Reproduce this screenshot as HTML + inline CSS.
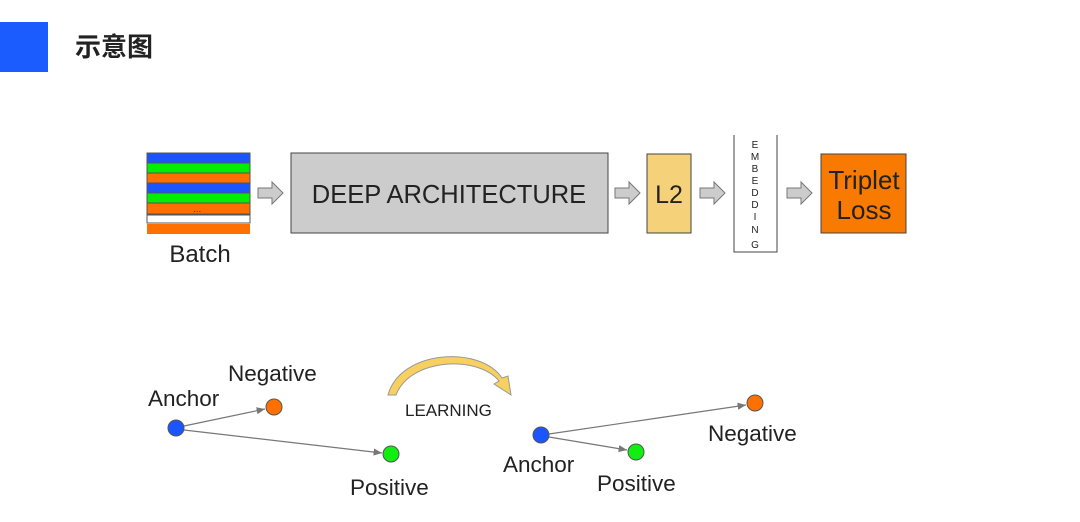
<!DOCTYPE html>
<html><head><meta charset="utf-8"><style>
body{margin:0;background:#fff;width:1080px;height:517px;overflow:hidden}
svg text{font-family:"Liberation Sans",Arial,sans-serif}
</style></head><body>
<svg width="1080" height="517" viewBox="0 0 1080 517" xmlns="http://www.w3.org/2000/svg">
<defs>
<g id="arr"><path d="M0,-5 H14 V-11 L25,0 L14,11 V5 H0 Z" fill="#ccc" stroke="#777" stroke-width="1"/></g>
<marker id="m" markerWidth="8" markerHeight="8" refX="7" refY="4" orient="auto"><path d="M0,1 L7,4 L0,7 Z" fill="#777"/></marker>
</defs>
<rect x="0" y="22" width="48" height="50" fill="#1a5cff"/>
<text x="75" y="56" font-size="26" font-weight="bold" fill="#222" style="font-family:'Liberation Sans','Noto Sans CJK SC',sans-serif">示意图</text>

<g stroke="#555" stroke-width="1">
<rect x="147" y="153" width="103" height="10" fill="#1a55ff"/>
<rect x="147" y="163" width="103" height="10" fill="#00ee00"/>
<rect x="147" y="173" width="103" height="10" fill="#ff7000"/>
<rect x="147" y="183" width="103" height="10" fill="#1a55ff"/>
<rect x="147" y="193" width="103" height="10" fill="#00ee00"/>
<rect x="147" y="203" width="103" height="11" fill="#ff7000"/>
<rect x="147" y="215" width="103" height="8" fill="#fff"/>
<rect x="147" y="224" width="103" height="10" fill="#ff7000" stroke="none"/>
</g>
<text x="193" y="212" font-size="10" fill="#333">...</text>
<text x="200" y="262" font-size="24" fill="#222" text-anchor="middle">Batch</text>

<use href="#arr" x="258" y="193"/>
<rect x="291" y="153" width="317" height="80" fill="#ccc" stroke="#444"/>
<text x="449" y="203" font-size="25.5" fill="#222" text-anchor="middle">DEEP ARCHITECTURE</text>
<use href="#arr" x="615" y="193"/>
<rect x="647" y="154" width="44" height="79" fill="#f5d27a" stroke="#444"/>
<text x="669" y="203" font-size="25" fill="#222" text-anchor="middle">L2</text>
<use href="#arr" x="700" y="193"/>
<path d="M734,135 V252 H777 V135" fill="#fff" stroke="#444"/>
<g font-size="10" fill="#222" text-anchor="middle">
<text x="755" y="148">E</text><text x="755" y="160">M</text><text x="755" y="172">B</text><text x="755" y="184">E</text><text x="755" y="196">D</text><text x="755" y="208">D</text><text x="755" y="220">I</text><text x="755" y="233">N</text><text x="755" y="248">G</text>
</g>
<use href="#arr" x="787" y="193"/>
<rect x="821" y="154" width="85" height="79" fill="#f97a00" stroke="#444"/>
<text x="864" y="189" font-size="26" fill="#222" text-anchor="middle">Triplet</text>
<text x="864" y="219" font-size="26" fill="#222" text-anchor="middle">Loss</text>

<g stroke="#777" stroke-width="1.2" marker-end="url(#m)">
<line x1="184" y1="426" x2="265" y2="409"/>
<line x1="184" y1="430" x2="382" y2="453"/>
<line x1="549" y1="434" x2="746" y2="405"/>
<line x1="549" y1="437" x2="627" y2="450"/>
</g>
<circle cx="176" cy="428" r="8" fill="#1a55ff" stroke="#555"/>
<circle cx="274" cy="407" r="8" fill="#ff7000" stroke="#555"/>
<circle cx="391" cy="454" r="8" fill="#11ee11" stroke="#555"/>
<circle cx="541" cy="435" r="8" fill="#1a55ff" stroke="#555"/>
<circle cx="636" cy="452" r="8" fill="#11ee11" stroke="#555"/>
<circle cx="755" cy="403" r="8" fill="#ff7000" stroke="#555"/>
<g font-size="22.5" fill="#222">
<text x="148" y="406">Anchor</text>
<text x="228" y="381">Negative</text>
<text x="350" y="495">Positive</text>
<text x="503" y="472">Anchor</text>
<text x="597" y="491">Positive</text>
<text x="708" y="441">Negative</text>
</g>
<path d="M388,395 C400,350 480,345 502,378 L508,376 L511,395 L494,384 L499,381 C478,355 410,358 396,395 Z" fill="#f7d060" stroke="#999" stroke-width="1"/>
<text x="405" y="416" font-size="17" fill="#222">LEARNING</text>
</svg>
</body></html>
